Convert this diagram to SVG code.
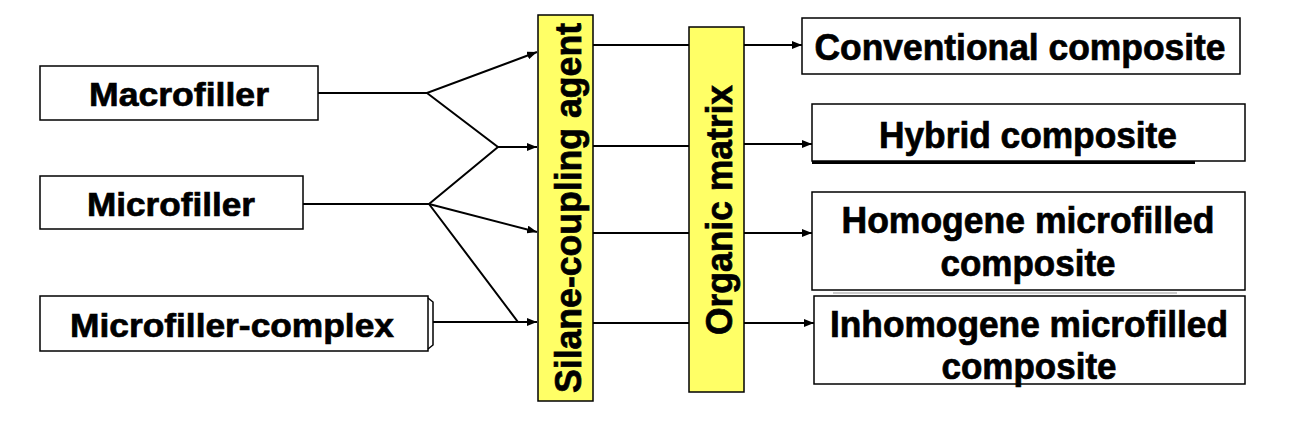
<svg xmlns="http://www.w3.org/2000/svg" width="1314" height="438" viewBox="0 0 1314 438">
<style>
.box{fill:#fff;stroke:#000;stroke-width:1.5}
.ybox{fill:#ffff66;stroke:#000;stroke-width:1.5}
.t{font-family:"Liberation Sans",Arial,sans-serif;font-weight:bold;fill:#000;stroke:#000;stroke-width:0.7;text-anchor:middle}
.l{font-size:34px}
.r{font-size:36px}
.v{font-size:37px}
.c{fill:none;stroke:#000;stroke-width:2}
</style>
<defs>
<marker id="ah" viewBox="0 0 10 8" refX="10" refY="4" markerWidth="10" markerHeight="8" markerUnits="userSpaceOnUse" orient="auto">
<path d="M0,0 L10,4 L0,8 Z" fill="#000"/>
</marker>
</defs>
<rect width="1314" height="438" fill="#fff"/>
<g id="macrofiller"><rect class="box" x="40" y="66" width="278" height="54"/><text class="t l" x="179" y="106" textLength="180" lengthAdjust="spacingAndGlyphs">Macrofiller</text></g>
<g id="microfiller"><rect class="box" x="40" y="176" width="263" height="53"/><text class="t l" x="171" y="216" textLength="168" lengthAdjust="spacingAndGlyphs">Microfiller</text></g>
<g id="microfiller-complex"><rect class="box" x="40" y="296" width="388" height="55"/><path class="c" style="stroke-width:1.5" d="M428,298 L433,302 L433,345 L428,349"/><text class="t l" x="232" y="337" textLength="324" lengthAdjust="spacingAndGlyphs">Microfiller-complex</text></g>
<g id="silane"><rect class="ybox" x="538" y="15" width="55" height="386"/><text class="t v" transform="translate(581,208) rotate(-90)" x="0" y="0" textLength="370" lengthAdjust="spacingAndGlyphs">Silane-coupling agent</text></g>
<g id="organic"><rect class="ybox" x="689" y="27" width="55" height="365"/><text class="t v" transform="translate(732,210) rotate(-90)" x="0" y="0" textLength="250" lengthAdjust="spacingAndGlyphs">Organic matrix</text></g>
<g id="conventional"><rect class="box" x="802" y="18" width="438" height="56"/><text class="t r" x="1020" y="60" textLength="411" lengthAdjust="spacingAndGlyphs">Conventional composite</text></g>
<g id="hybrid"><line x1="812" y1="162.5" x2="1195" y2="162.5" stroke="#000" stroke-width="3"/><rect class="box" x="812" y="104" width="433" height="57"/><text class="t r" x="1028" y="148" textLength="298" lengthAdjust="spacingAndGlyphs">Hybrid composite</text></g>
<g id="homogene"><rect class="box" x="812" y="192" width="433" height="98"/><text class="t r" x="1028" y="233" textLength="373" lengthAdjust="spacingAndGlyphs">Homogene microfilled</text><text class="t r" x="1028" y="276" textLength="175" lengthAdjust="spacingAndGlyphs">composite</text></g>
<g id="inhomogene"><line x1="833" y1="293" x2="1177" y2="293" stroke="#999" stroke-width="1"/><rect class="box" x="814" y="296" width="431" height="88"/><text class="t r" x="1029" y="337" textLength="398" lengthAdjust="spacingAndGlyphs">Inhomogene microfilled</text><text class="t r" x="1029" y="379" textLength="175" lengthAdjust="spacingAndGlyphs">composite</text></g>
<g id="connectors">
<polyline class="c" points="318,93 427,93 537,52" marker-end="url(#ah)"/>
<polyline class="c" points="427,93 498,147 537,147" marker-end="url(#ah)"/>
<polyline class="c" points="303,204 429,204 498,147"/>
<line class="c" x1="429" y1="204" x2="537" y2="232" marker-end="url(#ah)"/>
<polyline class="c" points="429,204 518,322 537,322" marker-end="url(#ah)"/>
<line class="c" x1="433" y1="322" x2="537" y2="322"/>
<line class="c" x1="593" y1="45" x2="689" y2="45"/>
<line class="c" x1="593" y1="146" x2="689" y2="146"/>
<line class="c" x1="593" y1="233" x2="689" y2="233"/>
<line class="c" x1="593" y1="323" x2="689" y2="323"/>
<line class="c" x1="744" y1="45" x2="802" y2="45" marker-end="url(#ah)"/>
<line class="c" x1="744" y1="144" x2="812" y2="144" marker-end="url(#ah)"/>
<line class="c" x1="744" y1="233" x2="812" y2="233" marker-end="url(#ah)"/>
<line class="c" x1="744" y1="323" x2="814" y2="323" marker-end="url(#ah)"/>
</g>
</svg>
